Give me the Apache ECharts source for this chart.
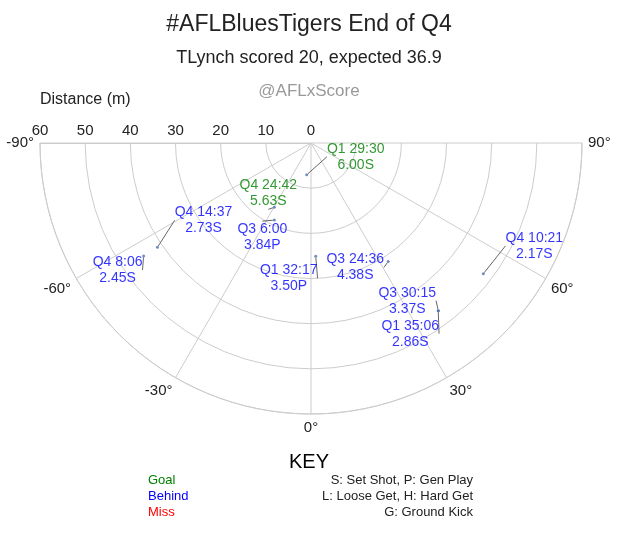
<!DOCTYPE html>
<html><head><meta charset="utf-8">
<script src="https://cdn.jsdelivr.net/npm/echarts@6/dist/echarts.min.js"></script>
<style>html,body{margin:0;padding:0;background:#fff}#c{width:618px;height:558px}</style>
</head><body><div id="c"></div>
<script>
const shotLabels = ['Q1 29:30\n6.00S','Q4 24:42\n5.63S','Q3 6:00\n3.84P','Q4 14:37\n2.73S','Q4 8:06\n2.45S','Q1 32:17\n3.50P','Q3 24:36\n4.38S','Q4 10:21\n2.17S','Q3 30:15\n3.37S','Q1 35:06\n2.86S'];
const distances = [7.1,16.4,18.9,41.1,44.7,25.1,31.3,47.9,46.6,46.6];
const angles = [-7.7,-29.7,-25.4,-55.8,-56.0,2.4,33.1,52.8,37.2,37.2];
const results = ['Goal','Goal','Behind','Behind','Behind','Behind','Behind','Behind','Behind','Behind'];
const labelOffsets = [[49,-18],[-6,-14],[-12,17],[46,-27],[-26,14],[-27,22],[-33,6],[51,-28],[-31,-10],[-28,23]];
const resultColors = {Goal:'#008000',Behind:'#0000ff',Miss:'#ff0000'};
const F = 'Liberation Sans, Arial, sans-serif';
const chart = echarts.init(document.getElementById('c'));
const data = distances.map((d,i)=>({
  value:[d, angles[i]],
  label:{formatter:shotLabels[i], color:resultColors[results[i]], offset:labelOffsets[i]}
}));
chart.setOption({
  animation:false,
  title:[
    {text:'#AFLBluesTigers End of Q4',left:'center',top:8,textStyle:{fontFamily:F,fontSize:23,fontWeight:'normal',color:'#222'}},
    {text:'TLynch scored 20, expected 36.9',left:'center',top:44,textStyle:{fontFamily:F,fontSize:18,fontWeight:'normal',color:'#222'}},
    {text:'@AFLxScore',left:'center',top:78,textStyle:{fontFamily:F,fontSize:17,fontWeight:'normal',color:'#999'}}
  ],
  polar:{center:[311,143],radius:271},
  angleAxis:{type:'value',min:-90,max:90,interval:30,startAngle:180,endAngle:360,clockwise:false,
    axisLine:{show:true,lineStyle:{color:'#ccc'}},axisTick:{show:false},
    splitLine:{show:true,lineStyle:{color:'#ccc'}},
    axisLabel:{formatter:'{value}°',fontFamily:F,fontSize:15,color:'#222',margin:6}},
  radiusAxis:{type:'value',min:0,max:60,interval:10,
    axisLine:{show:true,lineStyle:{color:'#ccc'}},axisTick:{show:false},
    splitLine:{show:true,lineStyle:{color:'#ccc'}},
    axisLabel:{fontFamily:F,fontSize:15,color:'#222',margin:-20}},
  graphic:[
    {type:'text',left:40,top:92,style:{text:'Distance (m)',font:'16px '+F,fill:'#222'}},
    {type:'text',left:'center',top:452,style:{text:'KEY',font:'20px '+F,fill:'#000'}},
    {type:'text',left:148,top:474,style:{text:'Goal',font:'13px '+F,fill:'#008000'}},
    {type:'text',left:148,top:490,style:{text:'Behind',font:'13px '+F,fill:'#0000ff'}},
    {type:'text',left:148,top:506,style:{text:'Miss',font:'13px '+F,fill:'#ff0000'}},
    {type:'text',right:145,top:474,style:{text:'S: Set Shot, P: Gen Play',font:'13px '+F,fill:'#222',align:'right'}},
    {type:'text',right:145,top:490,style:{text:'L: Loose Get, H: Hard Get',font:'13px '+F,fill:'#222',align:'right'}},
    {type:'text',right:145,top:506,style:{text:'G: Ground Kick',font:'13px '+F,fill:'#222',align:'right'}}
  ],
  series:[{type:'scatter',coordinateSystem:'polar',symbolSize:3,itemStyle:{color:'#4c72b0'},
    data:data,
    label:{show:true,position:'inside',fontFamily:F,fontSize:14,lineHeight:16,align:'center',verticalAlign:'middle'},
    labelLine:{show:true,lineStyle:{color:'#666',width:1}}}]
});
</script></body></html>
